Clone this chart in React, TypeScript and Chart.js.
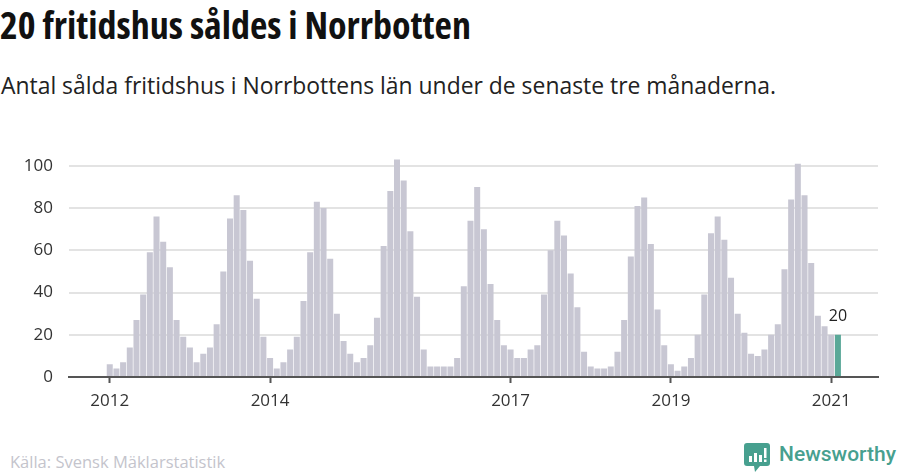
import React, { useEffect, useRef } from "react";
import { Chart, registerables } from "chart.js";

Chart.register(...registerables);

// Rolling three-month sums of sold holiday homes, Jan 2012 – Feb 2021
const v2012 = [6, 4, 7, 14, 27, 39, 59, 76, 64, 52, 27, 19];
const v2013 = [14, 7, 11, 14, 25, 50, 75, 86, 79, 55, 37, 19];
const v2014 = [9, 4, 7, 13, 19, 36, 59, 83, 80, 56, 30, 17];
const v2015 = [11, 7, 9, 15, 28, 62, 88, 103, 93, 69, 38, 13];
const v2016 = [5, 5, 5, 5, 9, 43, 74, 90, 70, 44, 27, 15];
const v2017 = [13, 9, 9, 13, 15, 39, 60, 74, 67, 49, 33, 12];
const v2018 = [5, 4, 4, 5, 12, 27, 57, 81, 85, 63, 32, 15];
const v2019 = [6, 3, 5, 9, 20, 39, 68, 76, 65, 47, 30, 21];
const v2020 = [11, 10, 13, 20, 25, 51, 84, 101, 86, 54, 29, 24];
const v2021 = [20, 20];

const values = [
  ...v2012, ...v2013, ...v2014, ...v2015, ...v2016,
  ...v2017, ...v2018, ...v2019, ...v2020, ...v2021,
];

const xTickMonths = [0, 24, 60, 84, 108];
const xTickLabels = ["2012", "2014", "2017", "2019", "2021"];
const yTickValues = [0, 20, 40, 60, 80, 100];

const GREY = "#c8c7d3";
const GREEN = "#5aa898";
const TEAL = "#47a08f";

const lastLabelPlugin = {
  id: "lastLabel",
  afterDatasetsDraw(chart: any) {
    const meta = chart.getDatasetMeta(0);
    const idx = values.length - 1;
    const el = meta.data[idx];
    if (!el) return;
    const ctx = chart.ctx;
    ctx.save();
    ctx.font = "16px 'Open Sans'";
    ctx.fillStyle = "#222";
    ctx.textAlign = "center";
    ctx.textBaseline = "alphabetic";
    ctx.fillText(String(values[idx]), el.x, el.y - 14);
    ctx.restore();
  },
};

export default function App() {
  const ref = useRef<HTMLCanvasElement | null>(null);

  useEffect(() => {
    if (!ref.current) return;
    const data = values.map((v, i) => ({ x: i, y: v }));
    const colors = values.map((_, i) => (i === values.length - 1 ? GREEN : GREY));
    const font = { family: "'Open Sans'", size: 17 };
    const chart = new Chart(ref.current, {
      type: "bar",
      data: {
        datasets: [
          {
            data: data as any,
            backgroundColor: colors,
            borderWidth: 0,
            barPercentage: 0.9,
            categoryPercentage: 1,
          },
        ],
      },
      options: {
        animation: false,
        responsive: false,
        maintainAspectRatio: false,
        layout: { padding: { top: 0, right: 22, left: 0, bottom: 0 } },
        plugins: { legend: { display: false }, tooltip: { enabled: false } },
        scales: {
          x: {
            type: "linear",
            min: -6.1,
            max: 115,
            offset: false,
            afterBuildTicks: (s: any) => {
              s.ticks = xTickMonths.map((v) => ({ value: v }));
            },
            afterFit: (s: any) => {
              s.height = 43;
            },
            ticks: {
              autoSkip: false,
              maxRotation: 0,
              font,
              color: "#333",
              padding: 8,
              callback: (v: any) => {
                const i = xTickMonths.indexOf(Number(v));
                return i >= 0 ? xTickLabels[i] : "";
              },
            },
            grid: {
              display: true,
              offset: false,
              drawOnChartArea: false,
              drawTicks: true,
              tickLength: 6,
              tickWidth: 2,
              tickColor: "#555",
              color: "#555",
            },
            border: { display: true, color: "#555", width: 2 },
          },
          y: {
            min: 0,
            max: 105,
            afterBuildTicks: (s: any) => {
              s.ticks = yTickValues.map((v) => ({ value: v }));
            },
            afterFit: (s: any) => {
              s.width = 69;
            },
            ticks: { font, color: "#333", padding: 16 },
            grid: { color: "#e3e3e3", lineWidth: 2, drawTicks: false },
            border: { display: false },
          },
        },
      },
      plugins: [lastLabelPlugin],
    });
    return () => chart.destroy();
  }, []);

  return (
    <div
      style={{
        position: "absolute",
        left: 0,
        top: 0,
        width: 900,
        height: 474,
        background: "#fff",
        overflow: "hidden",
      }}
    >
      <div
        style={{
          position: "absolute",
          left: 0,
          top: 5,
          fontFamily: "'Open Sans'",
          fontWeight: 700,
          fontStretch: "75%",
          fontSize: 38,
          lineHeight: "38px",
          color: "#111",
          whiteSpace: "nowrap",
        }}
      >
        20 fritidshus såldes i Norrbotten
      </div>
      <div
        style={{
          position: "absolute",
          left: 1,
          top: 74,
          fontFamily: "'Open Sans'",
          fontSize: 22.9,
          lineHeight: "23px",
          color: "#222",
          whiteSpace: "nowrap",
        }}
      >
        Antal sålda fritidshus i Norrbottens län under de senaste tre månaderna.
      </div>
      <canvas
        ref={ref}
        width={900}
        height={291}
        style={{ position: "absolute", left: 0, top: 129, width: 900, height: 291 }}
      />
      <div
        style={{
          position: "absolute",
          left: 10,
          top: 454,
          fontFamily: "'Open Sans'",
          fontSize: 16.5,
          lineHeight: "16px",
          color: "#c4c4cc",
          whiteSpace: "nowrap",
        }}
      >
        Källa: Svensk Mäklarstatistik
      </div>
      <svg
        width={26}
        height={30}
        viewBox="0 0 26 30"
        style={{ position: "absolute", left: 744, top: 443 }}
      >
        <path
          d="M3 0 H23 Q26 0 26 3 V20 Q26 23 23 23 H16 L11 29 L10 23 H3 Q0 23 0 20 V3 Q0 0 3 0 Z"
          fill={TEAL}
        />
        <rect x={5} y={13} width={3} height={6} fill="#fff" />
        <rect x={10} y={10} width={3} height={9} fill="#fff" />
        <rect x={15} y={12} width={3} height={7} fill="#fff" />
        <rect x={20} y={5} width={2.5} height={10} fill="#fff" />
        <rect x={20} y={16.5} width={2.5} height={2.5} fill="#fff" />
      </svg>
      <div
        style={{
          position: "absolute",
          left: 779,
          top: 442,
          fontFamily: "Roboto",
          fontWeight: 500,
          fontSize: 21,
          lineHeight: "24px",
          color: TEAL,
          whiteSpace: "nowrap",
        }}
      >
        Newsworthy
      </div>
    </div>
  );
}
